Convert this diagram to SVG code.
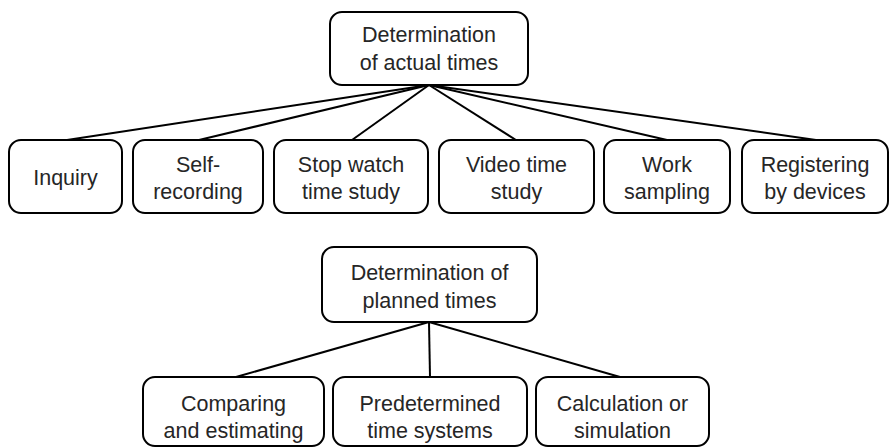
<svg xmlns="http://www.w3.org/2000/svg" width="890" height="448" viewBox="0 0 890 448">
<style>
.box{fill:#fff;stroke:#000;stroke-width:2}
.t{font-family:"Liberation Sans",Arial,sans-serif;font-size:21.5px;fill:#262626;text-anchor:middle}
.c{stroke:#000;stroke-width:2;fill:none}
</style>
<rect width="890" height="448" fill="#fff"/>
<g id="connectors">
<line class="c" x1="429" y1="85" x2="67" y2="140"/>
<line class="c" x1="429" y1="85" x2="199" y2="140"/>
<line class="c" x1="429" y1="85" x2="352" y2="140"/>
<line class="c" x1="429" y1="85" x2="516" y2="140"/>
<line class="c" x1="429" y1="85" x2="667" y2="140"/>
<line class="c" x1="429" y1="85" x2="816" y2="140"/>
<line class="c" x1="429" y1="322" x2="236" y2="377"/>
<line class="c" x1="429" y1="322" x2="430" y2="377"/>
<line class="c" x1="429" y1="322" x2="620" y2="377"/>
</g>
<g id="actual">
<rect class="box" x="330" y="12" width="198" height="73" rx="12"/>
<text class="t" x="429" y="42">Determination</text>
<text class="t" x="429" y="70">of actual times</text>
</g>
<g id="inquiry">
<rect class="box" x="9" y="140" width="113" height="73" rx="12"/>
<text class="t" x="65.5" y="185">Inquiry</text>
</g>
<g id="self">
<rect class="box" x="133" y="140" width="130" height="73" rx="12"/>
<text class="t" x="198" y="172">Self-</text>
<text class="t" x="198" y="199">recording</text>
</g>
<g id="stopwatch">
<rect class="box" x="274" y="140" width="154" height="73" rx="12"/>
<text class="t" x="351" y="172">Stop watch</text>
<text class="t" x="351" y="199">time study</text>
</g>
<g id="video">
<rect class="box" x="439" y="140" width="155" height="73" rx="12"/>
<text class="t" x="516.5" y="172">Video time</text>
<text class="t" x="516.5" y="199">study</text>
</g>
<g id="work">
<rect class="box" x="604" y="140" width="126" height="73" rx="12"/>
<text class="t" x="667" y="172">Work</text>
<text class="t" x="667" y="199">sampling</text>
</g>
<g id="registering">
<rect class="box" x="742" y="140" width="146" height="73" rx="12"/>
<text class="t" x="815" y="172">Registering</text>
<text class="t" x="815" y="199">by devices</text>
</g>
<g id="planned">
<rect class="box" x="322" y="247" width="215" height="75" rx="12"/>
<text class="t" x="429.5" y="280">Determination of</text>
<text class="t" x="429.5" y="308">planned times</text>
</g>
<g id="comparing">
<rect class="box" x="143" y="377" width="181" height="69" rx="12"/>
<text class="t" x="233.5" y="411">Comparing</text>
<text class="t" x="233.5" y="438">and estimating</text>
</g>
<g id="predetermined">
<rect class="box" x="333" y="377" width="194" height="69" rx="12"/>
<text class="t" x="430" y="411">Predetermined</text>
<text class="t" x="430" y="438">time systems</text>
</g>
<g id="calculation">
<rect class="box" x="536" y="377" width="173" height="69" rx="12"/>
<text class="t" x="622.5" y="411">Calculation or</text>
<text class="t" x="622.5" y="438">simulation</text>
</g>
</svg>
